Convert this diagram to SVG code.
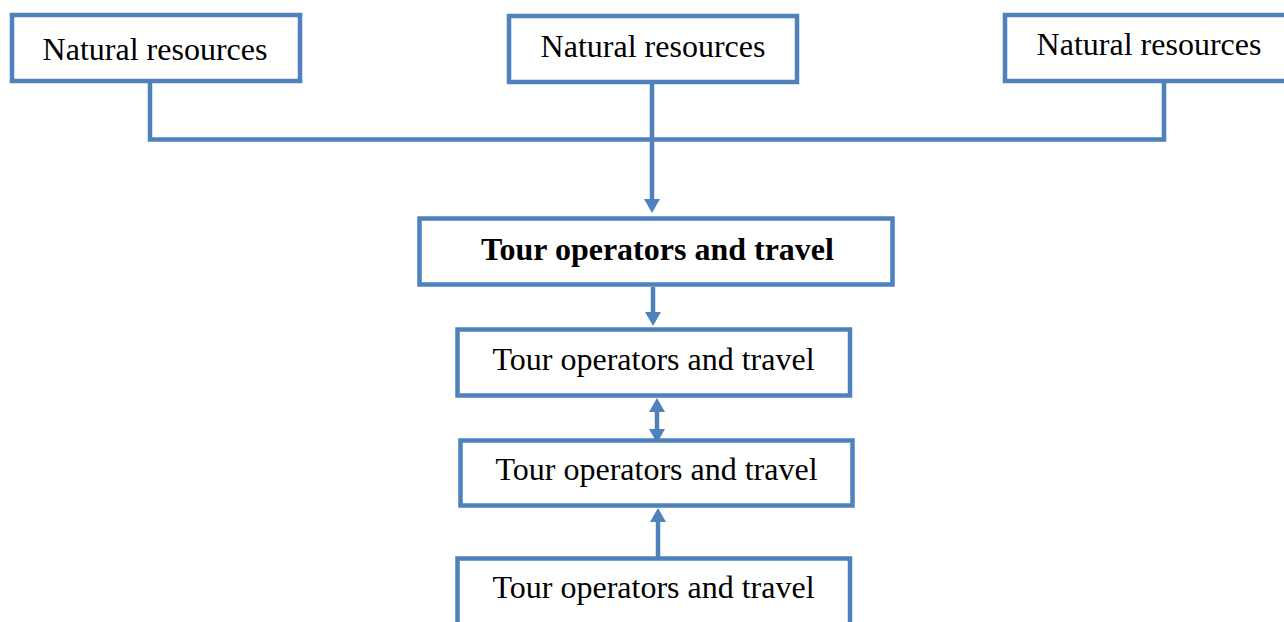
<svg xmlns="http://www.w3.org/2000/svg" width="1284" height="622" viewBox="0 0 1284 622">
  <style>
    .box { fill: #ffffff; stroke: #4F81BD; stroke-width: 4.5; }
    .lbl { font-family: "Liberation Serif", "Times New Roman", serif; font-size: 32px; fill: #000000; text-anchor: middle; }
    .bold { font-weight: bold; }
    .wire { fill: none; stroke: #4F81BD; stroke-width: 4.5; }
    .arrow { marker-end: url(#head); }
  </style>
  <defs>
    <marker id="head" markerUnits="userSpaceOnUse" markerWidth="14" markerHeight="16" refX="0" refY="8" orient="auto-start-reverse" viewBox="0 0 14 16">
      <path d="M0,0 L14,8 L0,16 z" fill="#4F81BD"/>
    </marker>
  </defs>
  <rect width="1284" height="622" fill="#ffffff"/>

  <!-- connectors -->
  <g id="connectors">
    <path class="wire" d="M150,83 V139.5 H1164 V83"/>
    <path class="wire arrow" d="M652,84 V199"/>
    <path class="wire arrow" d="M653,287 V312"/>
    <path class="wire" d="M657,412 V429" marker-start="url(#head)" marker-end="url(#head)"/>
    <path class="wire arrow" d="M658,557 V522"/>
  </g>

  <!-- nodes -->
  <g id="resources-left">
    <rect class="box" x="12" y="15" width="288" height="66"/>
    <text class="lbl" x="155" y="60">Natural resources</text>
  </g>
  <g id="resources-center">
    <rect class="box" x="509" y="16" width="288" height="66"/>
    <text class="lbl" x="653" y="57">Natural resources</text>
  </g>
  <g id="resources-right">
    <rect class="box" x="1005" y="15" width="290" height="66"/>
    <text class="lbl" x="1149" y="55">Natural resources</text>
  </g>
  <g id="tour-main">
    <rect class="box" x="419.5" y="218.5" width="473" height="66"/>
    <text class="lbl bold" x="657.5" y="260">Tour operators and travel</text>
  </g>
  <g id="tour-2">
    <rect class="box" x="457.5" y="329.5" width="392.5" height="66"/>
    <text class="lbl" x="653.5" y="370">Tour operators and travel</text>
  </g>
  <g id="tour-3">
    <rect class="box" x="460.5" y="440.5" width="392" height="65"/>
    <text class="lbl" x="656.5" y="480">Tour operators and travel</text>
  </g>
  <g id="tour-4">
    <rect class="box" x="457.5" y="558.5" width="392.5" height="80"/>
    <text class="lbl" x="653.5" y="598">Tour operators and travel</text>
  </g>
</svg>
